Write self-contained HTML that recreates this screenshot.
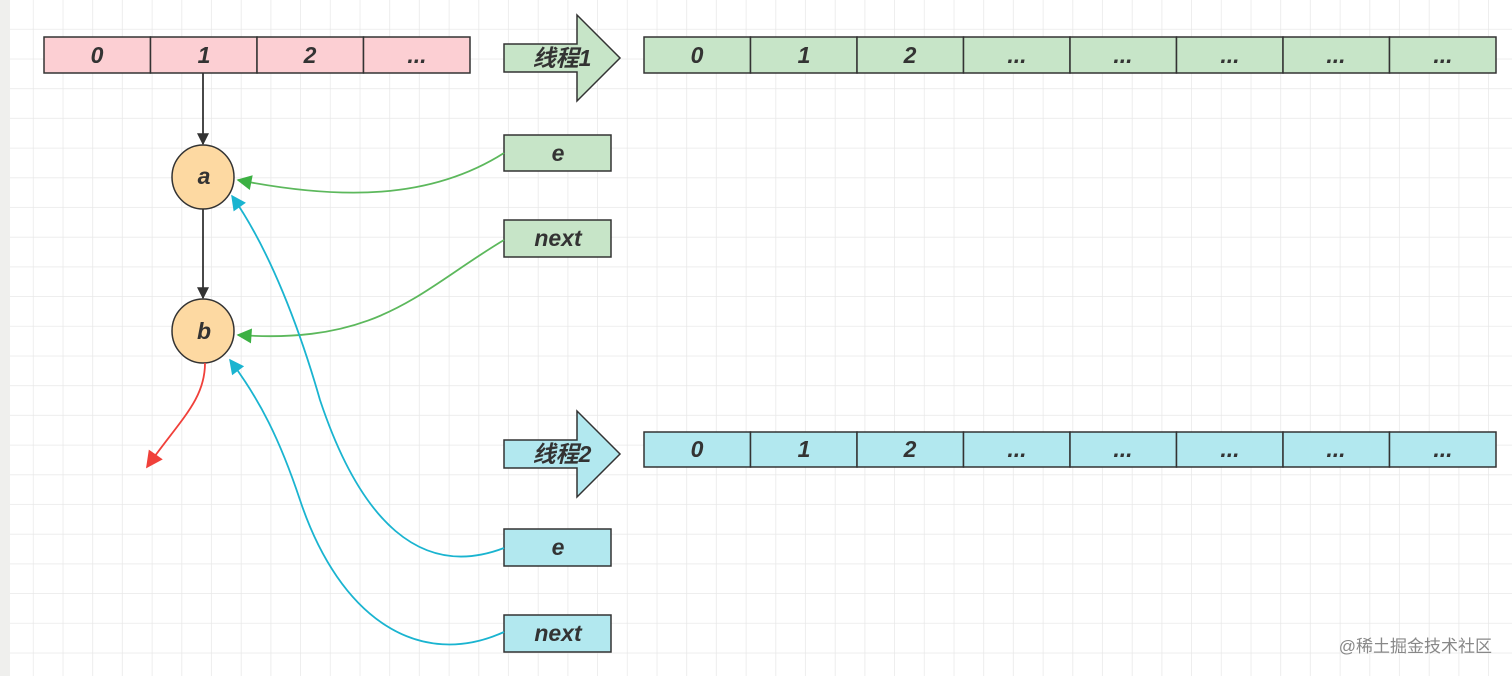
<!DOCTYPE html>
<html><head><meta charset="utf-8"><style>
body{margin:0;width:1512px;height:676px;overflow:hidden;background:#fff}
</style></head><body>
<svg width="1512" height="676" xmlns="http://www.w3.org/2000/svg" font-family="Liberation Sans, Noto Sans CJK SC, sans-serif">
<defs>
<pattern id="g" x="4" y="0" width="29.7" height="29.7" patternUnits="userSpaceOnUse">
<path d="M29.7 0V29.7M0 29.7H29.7" stroke="#e8e8e8" stroke-width="1.5" fill="none"/>
</pattern>
<marker id="mk" viewBox="0 0 10 10" refX="9" refY="5" markerWidth="16" markerHeight="12" markerUnits="userSpaceOnUse" orient="auto"><path d="M0 0L10 5L0 10z" fill="#333"/></marker>
<marker id="mg" viewBox="0 0 10 10" refX="9" refY="5" markerWidth="18" markerHeight="15" markerUnits="userSpaceOnUse" orient="auto"><path d="M0 0L10 5L0 10z" fill="#3cb043"/></marker>
<marker id="mc" viewBox="0 0 10 10" refX="9" refY="5" markerWidth="18" markerHeight="15" markerUnits="userSpaceOnUse" orient="auto"><path d="M0 0L10 5L0 10z" fill="#1ab4d0"/></marker>
<marker id="mr" viewBox="0 0 10 10" refX="9" refY="5" markerWidth="20" markerHeight="17" markerUnits="userSpaceOnUse" orient="auto"><path d="M0 0L10 5L0 10z" fill="#f0403a"/></marker>
</defs>
<rect width="1512" height="676" fill="url(#g)"/>
<rect width="10" height="676" fill="#efefed"/>
<g font-weight="bold" font-style="italic" font-size="22" fill="#333" text-anchor="middle" stroke="#333" stroke-width="1.5">
<g fill="#fccfd3"><rect x="44" y="37" width="106.5" height="36"/><rect x="150.5" y="37" width="106.5" height="36"/><rect x="257" y="37" width="106.5" height="36"/><rect x="363.5" y="37" width="106.5" height="36"/></g>
<g fill="#c7e5c8">
<rect x="644" y="37" width="106.5" height="36"/><rect x="750.5" y="37" width="106.5" height="36"/><rect x="857" y="37" width="106.5" height="36"/><rect x="963.5" y="37" width="106.5" height="36"/><rect x="1070" y="37" width="106.5" height="36"/><rect x="1176.5" y="37" width="106.5" height="36"/><rect x="1283" y="37" width="106.5" height="36"/><rect x="1389.5" y="37" width="106.5" height="36"/>
<path d="M504 44H577V15L620 58L577 101V72H504Z"/>
<rect x="504" y="135" width="107" height="36"/><rect x="504" y="220" width="107" height="37"/>
</g>
<g fill="#b2e8ef">
<rect x="644" y="432" width="106.5" height="35"/><rect x="750.5" y="432" width="106.5" height="35"/><rect x="857" y="432" width="106.5" height="35"/><rect x="963.5" y="432" width="106.5" height="35"/><rect x="1070" y="432" width="106.5" height="35"/><rect x="1176.5" y="432" width="106.5" height="35"/><rect x="1283" y="432" width="106.5" height="35"/><rect x="1389.5" y="432" width="106.5" height="35"/>
<path d="M504 440H577V411L620 454L577 497V468H504Z"/>
<rect x="504" y="529" width="107" height="37"/><rect x="504" y="615" width="107" height="37"/>
</g>
<g fill="#fdd9a2"><ellipse cx="203" cy="177" rx="31" ry="32"/><ellipse cx="203" cy="331" rx="31" ry="32"/></g>
</g>
<g fill="none" stroke-width="1.8">
<path d="M203 73V144" stroke="#333" marker-end="url(#mk)"/>
<path d="M203 209V298" stroke="#333" marker-end="url(#mk)"/>
<path d="M504 153C430 200 340 200 238 180" stroke="#5cb85c" marker-end="url(#mg)"/>
<path d="M504 240C420 290 380 345 238 335" stroke="#5cb85c" marker-end="url(#mg)"/>
<path d="M504 548C420 580 360 520 320 400C300 330 270 250 232 196" stroke="#1ab4d0" marker-end="url(#mc)"/>
<path d="M504 632C420 670 340 620 300 500C280 440 260 400 230 360" stroke="#1ab4d0" marker-end="url(#mc)"/>
<path d="M205 363C205 400 180 420 147 467" stroke="#f0403a" marker-end="url(#mr)"/>
</g>
<g font-weight="bold" font-style="italic" font-size="23" fill="#333" text-anchor="middle">
<text x="97" y="63">0</text><text x="204" y="63">1</text><text x="310" y="63">2</text><text x="417" y="63">...</text>
<text x="697" y="63">0</text><text x="804" y="63">1</text><text x="910" y="63">2</text><text x="1017" y="63">...</text><text x="1123" y="63">...</text><text x="1230" y="63">...</text><text x="1336" y="63">...</text><text x="1443" y="63">...</text>
<text x="697" y="457">0</text><text x="804" y="457">1</text><text x="910" y="457">2</text><text x="1017" y="457">...</text><text x="1123" y="457">...</text><text x="1230" y="457">...</text><text x="1336" y="457">...</text><text x="1443" y="457">...</text>
<text x="562" y="66">线程1</text><text x="562" y="462">线程2</text>
<text x="558" y="161">e</text><text x="558" y="246">next</text>
<text x="558" y="555">e</text><text x="558" y="641">next</text>
<text x="204" y="184">a</text><text x="204" y="339">b</text>
</g>
<text x="1492" y="652" font-size="17" fill="#888" text-anchor="end">@稀土掘金技术社区</text>
</svg>
</body></html>
